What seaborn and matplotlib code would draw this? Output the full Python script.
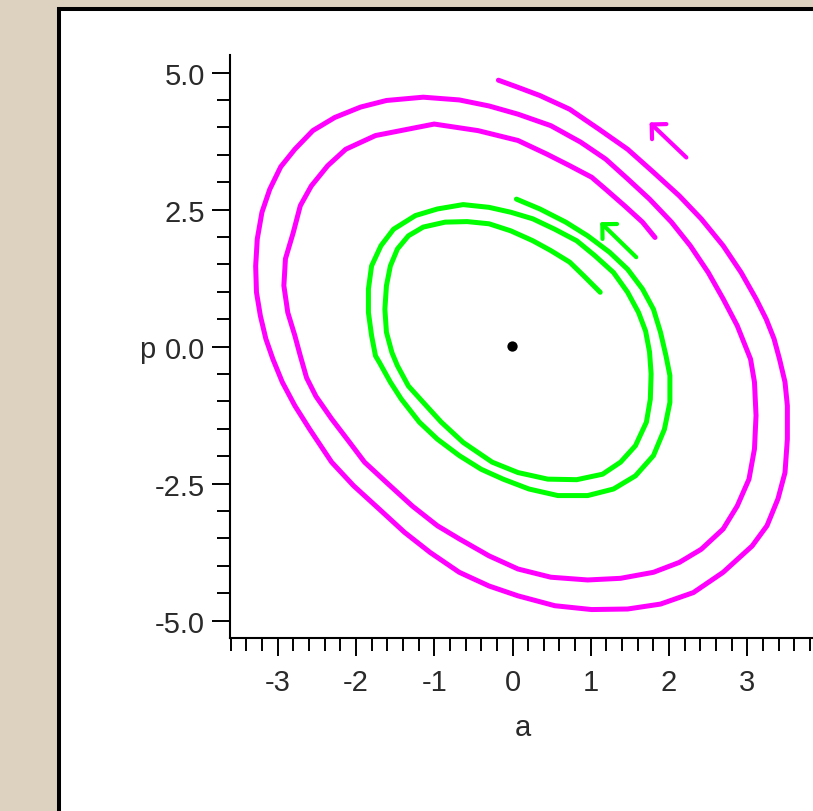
import matplotlib
matplotlib.use("Agg")
import matplotlib.pyplot as plt
import seaborn as sns
from matplotlib.patches import Rectangle
from matplotlib.ticker import MultipleLocator

# ---------------------------------------------------------
# Data: two phase-plane spirals
# ---------------------------------------------------------

magenta_a = [1.82, 1.66, 1.43, 1.19, 1.01, 0.73, 0.44, 0.07, -0.44, -1.00,
             -1.75, -2.13, -2.36, -2.57, -2.71, -2.80, -2.90, -2.92, -2.87, -2.78,
             -2.71, -2.63, -2.51, -2.31, -2.08, -1.89, -1.61, -1.28, -0.96, -0.68,
             -0.30, 0.07, 0.49, 0.96, 1.38, 1.80, 2.13, 2.41, 2.69, 2.87,
             3.02, 3.09, 3.11, 3.09, 3.04, 2.87, 2.69, 2.50, 2.27, 2.03,
             1.75, 1.47, 1.19, 0.87, 0.49, 0.07, -0.30, -0.68, -1.14, -1.61,
             -1.94, -2.27, -2.55, -2.78, -2.96, -3.10, -3.20, -3.26, -3.28, -3.27,
             -3.22, -3.15, -3.06, -2.94, -2.78, -2.59, -2.31, -2.03, -1.70, -1.38,
             -1.05, -0.68, -0.30, 0.07, 0.54, 1.01, 1.47, 1.89, 2.31, 2.69,
             3.06, 3.25, 3.39, 3.48, 3.51, 3.51, 3.48, 3.41, 3.34, 3.24,
             3.11, 2.92, 2.69, 2.41, 2.13, 1.80, 1.47, 1.10, 0.73, 0.35,
             0.07, -0.18]
magenta_p = [1.99, 2.27, 2.57, 2.87, 3.09, 3.30, 3.51, 3.76, 3.94, 4.06,
             3.85, 3.60, 3.30, 2.93, 2.57, 2.08, 1.60, 1.11, 0.62, 0.20,
             -0.17, -0.57, -0.91, -1.32, -1.75, -2.11, -2.48, -2.91, -3.27, -3.51,
             -3.82, -4.06, -4.21, -4.26, -4.23, -4.12, -3.94, -3.70, -3.33, -2.91,
             -2.42, -1.87, -1.26, -0.65, -0.23, 0.38, 0.87, 1.35, 1.84, 2.27,
             2.69, 3.06, 3.42, 3.73, 4.03, 4.24, 4.39, 4.50, 4.55, 4.49,
             4.37, 4.18, 3.94, 3.60, 3.28, 2.87, 2.45, 1.96, 1.47, 0.99,
             0.56, 0.14, -0.23, -0.65, -1.08, -1.51, -2.11, -2.54, -2.97, -3.39,
             -3.76, -4.12, -4.37, -4.55, -4.73, -4.80, -4.79, -4.70, -4.49, -4.12,
             -3.64, -3.27, -2.78, -2.30, -1.69, -1.08, -0.65, -0.23, 0.14, 0.50,
             0.87, 1.35, 1.84, 2.33, 2.75, 3.18, 3.60, 3.97, 4.33, 4.58,
             4.73, 4.86]

green_a = [1.12, 0.91, 0.73, 0.49, 0.26, -0.02, -0.30, -0.58, -0.86, -1.14,
           -1.33, -1.47, -1.56, -1.61, -1.63, -1.61, -1.54, -1.47, -1.33, -1.14,
           -0.91, -0.63, -0.26, 0.07, 0.45, 0.82, 1.15, 1.38, 1.57, 1.71,
           1.76, 1.77, 1.75, 1.70, 1.61, 1.47, 1.29, 1.05, 0.82, 0.54,
           0.26, -0.02, -0.30, -0.63, -0.96, -1.24, -1.52, -1.68, -1.80, -1.84,
           -1.84, -1.80, -1.75, -1.70, -1.56, -1.42, -1.19, -0.96, -0.68, -0.40,
           -0.12, 0.21, 0.58, 0.96, 1.29, 1.57, 1.80, 1.94, 2.01, 2.01,
           1.96, 1.89, 1.80, 1.66, 1.47, 1.24, 0.96, 0.68, 0.35, 0.05]
green_p = [0.99, 1.29, 1.54, 1.75, 1.93, 2.11, 2.24, 2.28, 2.27, 2.18,
           2.02, 1.78, 1.47, 1.11, 0.68, 0.26, -0.11, -0.35, -0.72, -1.02,
           -1.38, -1.75, -2.11, -2.30, -2.42, -2.43, -2.33, -2.11, -1.81, -1.38,
           -0.96, -0.50, -0.10, 0.28, 0.62, 0.99, 1.35, 1.66, 1.93, 2.14,
           2.33, 2.45, 2.54, 2.59, 2.51, 2.39, 2.14, 1.84, 1.47, 1.05,
           0.62, 0.20, -0.17, -0.29, -0.65, -0.96, -1.38, -1.69, -1.99, -2.24,
           -2.42, -2.60, -2.72, -2.72, -2.60, -2.36, -1.99, -1.51, -1.02, -0.53,
           -0.17, 0.26, 0.68, 1.05, 1.41, 1.72, 2.02, 2.27, 2.51, 2.69]

# direction arrows (tail, head)
magenta_arrow = [(2.22, 3.45), (1.75, 4.09)]
green_arrow = [(1.58, 1.63), (1.12, 2.27)]

# equilibrium point
eq_a = [0.0]
eq_p = [0.0]

x_ticks = [-3, -2, -1, 0, 1, 2, 3]
x_tick_labels = ["-3", "-2", "-1", "0", "1", "2", "3"]
y_ticks = [-5.0, -2.5, 0.0, 2.5, 5.0]
y_tick_labels = ["-5.0", "-2.5", "0.0", "2.5", "5.0"]

MAGENTA = "#FF00FF"
GREEN = "#00FF00"
BEIGE = "#DDD1BF"
TEXT = "#2a2a2a"

# ---------------------------------------------------------
# Figure
# ---------------------------------------------------------

sns.set_theme(style="ticks")
plt.rcParams["font.family"] = ["Liberation Sans", "DejaVu Sans"]

W, H = 813, 812
fig = plt.figure(figsize=(W / 100, H / 100), dpi=100, facecolor=BEIGE)

# white panel with black frame (runs off right / bottom edge)
panel = Rectangle((59 / W, -0.2), 1.3, 1.2 - 10 / H, transform=fig.transFigure,
                  facecolor="white", edgecolor="black", linewidth=2.9, zorder=-10)
fig.patches.append(panel)

ax = fig.add_axes([230 / W, (H - 638.5) / H, 585 / W, 582.5 / H])
ax.set_facecolor("none")

sns.lineplot(x=magenta_a, y=magenta_p, sort=False, estimator=None,
             color=MAGENTA, linewidth=3.6, ax=ax)
sns.lineplot(x=green_a, y=green_p, sort=False, estimator=None,
             color=GREEN, linewidth=3.6, ax=ax)
sns.scatterplot(x=eq_a, y=eq_p, color="black", s=55, edgecolor="none", ax=ax, zorder=5)

for (tail, head), col in [(magenta_arrow, MAGENTA), (green_arrow, GREEN)]:
    ax.annotate("", xy=head, xytext=tail,
                arrowprops=dict(arrowstyle="->,head_length=0.75,head_width=0.75",
                                color=col, lw=3.0, mutation_scale=10,
                                shrinkA=0, shrinkB=0))

ax.set_xlim(-3.608, 3.863)
ax.set_ylim(-5.31, 5.32)

ax.set_xticks(x_ticks)
ax.set_xticklabels(x_tick_labels)
ax.set_yticks(y_ticks)
ax.set_yticklabels(y_tick_labels)
ax.xaxis.set_minor_locator(MultipleLocator(0.2))
ax.yaxis.set_minor_locator(MultipleLocator(0.5))

for side in ["top", "right"]:
    ax.spines[side].set_visible(False)
for side in ["left", "bottom"]:
    ax.spines[side].set_color("black")
    ax.spines[side].set_linewidth(1.5)

ax.tick_params(axis="both", which="major", length=13, width=1.4,
               color="black", labelsize=21, labelcolor=TEXT, direction="out")
ax.tick_params(axis="both", which="minor", length=9.2, width=1.4,
               color="black", direction="out")
ax.tick_params(axis="x", which="major", pad=9)
ax.tick_params(axis="y", which="major", pad=5)

ax.set_xlabel("a", fontsize=21, color=TEXT, va="baseline")
ax.xaxis.set_label_coords((522.7 - 230) / 585, (638.5 - 736) / 582.5)
ax.set_ylabel("p", fontsize=21, color=TEXT, rotation=0, ha="center", va="baseline")
ax.yaxis.set_label_coords((147 - 230) / 585, (638.5 - 357.5) / 582.5)

fig.savefig("out.png", dpi=100, facecolor=BEIGE)
